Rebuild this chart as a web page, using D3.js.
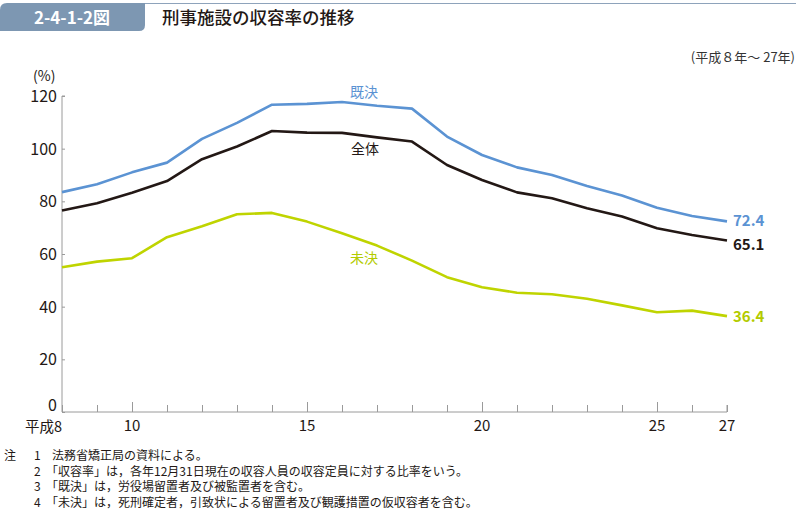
<!DOCTYPE html>
<html>
<head>
<meta charset="utf-8">
<script src="https://cdn.jsdelivr.net/npm/d3@7"></script>
<style>
  body { margin: 0; background: #fff; }
  svg text { font-family: "Noto Sans CJK JP", "Noto Sans", sans-serif; }
</style>
</head>
<body>
<div id="chart"></div>
<script>
// 平成8年～27年
var years = d3.range(8, 28);
var kiketsu = [83.5, 86.5, 91.0, 94.7, 103.7, 109.8, 116.7, 117.0, 117.7, 116.3, 115.2, 104.6, 97.6, 92.9, 90.0, 85.8, 82.2, 77.6, 74.4, 72.4];
var zentai  = [76.5, 79.3, 83.3, 87.7, 96.0, 100.8, 106.7, 106.1, 106.0, 104.3, 102.7, 93.8, 88.1, 83.4, 81.2, 77.4, 74.2, 69.8, 67.2, 65.1];
var miketsu = [55.0, 57.1, 58.4, 66.4, 70.5, 75.1, 75.6, 72.3, 67.9, 63.2, 57.5, 51.2, 47.4, 45.3, 44.7, 43.0, 40.5, 37.9, 38.5, 36.4];
var yTicks = [0, 20, 40, 60, 80, 100, 120];
var xLabels = [10, 15, 20, 25, 27];
var notes = [
  ["注", "1", "法務省矯正局の資料による。"],
  ["", "2", "「収容率」は，各年12月31日現在の収容人員の収容定員に対する比率をいう。"],
  ["", "3", "「既決」は，労役場留置者及び被監置者を含む。"],
  ["", "4", "「未決」は，死刑確定者，引致状による留置者及び観護措置の仮収容者を含む。"]
];

var svg = d3.select("#chart").append("svg").attr("width", 796).attr("height", 513);

// header
svg.append("path").attr("d", "M0,10 Q0,3 7,3 L145,3 L145,25 Q145,31 139,31 L0,31 Z").attr("fill", "#7d97b2");
svg.append("line").attr("x1", 145).attr("x2", 796).attr("y1", 3.5).attr("y2", 3.5).attr("stroke", "#8ea3bb").attr("stroke-width", 1);
svg.append("text").attr("x", 72).attr("y", 24).attr("text-anchor", "middle").attr("fill", "#fff")
  .attr("font-size", 17).attr("font-weight", "bold").text("2-4-1-2図");
svg.append("text").attr("x", 162).attr("y", 24).attr("fill", "#231815")
  .attr("font-size", 17.5).attr("font-weight", 500).text("刑事施設の収容率の推移");
svg.append("text").attr("x", 795).attr("y", 62).attr("text-anchor", "end").attr("fill", "#333")
  .attr("font-size", 13).text("(平成８年～ 27年)");

var x = d3.scaleLinear().domain([8, 27]).range([62, 727]);
var y = d3.scaleLinear().domain([0, 120]).range([412, 96]);

// y axis
var yAxis = svg.append("g").attr("transform", "translate(62,0)")
  .call(d3.axisRight(y).tickValues(yTicks).tickSize(3).tickFormat(""));
yAxis.select(".domain").attr("stroke", "#9a9a9a").attr("d", "M3," + y(120) + "H0V" + y(0));
yAxis.selectAll(".tick line").attr("stroke", "#9a9a9a");
svg.selectAll(".ylab").data(yTicks).enter().append("text")
  .attr("x", 57).attr("y", function(d) { return y(d) + (d === 0 ? -1 : 6); })
  .attr("text-anchor", "end").attr("font-size", 16).attr("fill", "#231815").text(function(d) { return d; });
svg.append("text").attr("x", 33).attr("y", 81).attr("font-size", 14).attr("fill", "#231815").text("(%)");

// x axis
var xAxis = svg.append("g").attr("transform", "translate(0,412)")
  .call(d3.axisTop(x).tickValues(years).tickSize(7).tickFormat(""));
xAxis.select(".domain").attr("stroke", "#9a9a9a").attr("d", "M" + x(8) + ",0H" + x(27) + "V-7");
xAxis.selectAll(".tick line").attr("stroke", "#9a9a9a")
  .attr("y2", function(d) { return (d % 5 === 0) ? -10 : -7; });
svg.selectAll(".xlab").data(xLabels).enter().append("text")
  .attr("x", function(d) { return x(d); }).attr("y", 431)
  .attr("text-anchor", "middle").attr("font-size", 15).attr("fill", "#231815").text(function(d) { return d; });
svg.append("text").attr("x", x(8)).attr("y", 432).attr("text-anchor", "end")
  .attr("font-size", 14.5).attr("fill", "#231815").text("平成8");

// lines
var line = d3.line().x(function(d, i) { return x(years[i]); }).y(function(d) { return y(d); });
var series = [
  { vals: kiketsu, color: "#5b93d3", name: "既決", lx: 364, ly: 97, nameColor: "#5b93d3", endColor: "#5b93d3", dy: 5 },
  { vals: zentai, color: "#231815", name: "全体", lx: 365, ly: 154, nameColor: "#231815", endColor: "#231815", dy: 9 },
  { vals: miketsu, color: "#bfd400", name: "未決", lx: 364, ly: 263, nameColor: "#b3cb00", endColor: "#b3cb00", dy: 6 }
];
series.forEach(function(s) {
  svg.append("path").datum(s.vals).attr("d", line).attr("fill", "none")
    .attr("stroke", s.color).attr("stroke-width", 2.6).attr("stroke-linejoin", "round");
  svg.append("text").attr("x", s.lx).attr("y", s.ly).attr("text-anchor", "middle")
    .attr("font-size", 14).attr("fill", s.nameColor).text(s.name);
  var last = s.vals[s.vals.length - 1];
  svg.append("text").attr("x", x(27) + 6).attr("y", y(last) + s.dy)
    .attr("font-size", 15).attr("font-weight", "bold").attr("fill", s.endColor).text(last.toFixed(1));
});

// notes
var nt = svg.append("g").attr("font-size", 12).attr("fill", "#231815");
notes.forEach(function(n, i) {
  var by = 460 + i * 15.6;
  nt.append("text").attr("x", 4).attr("y", by).text(n[0]);
  nt.append("text").attr("x", 34).attr("y", by).text(n[1]);
  nt.append("text").attr("x", n[2].charAt(0) === "「" ? 46 : 52).attr("y", by).text(n[2]);
});
</script>
</body>
</html>
